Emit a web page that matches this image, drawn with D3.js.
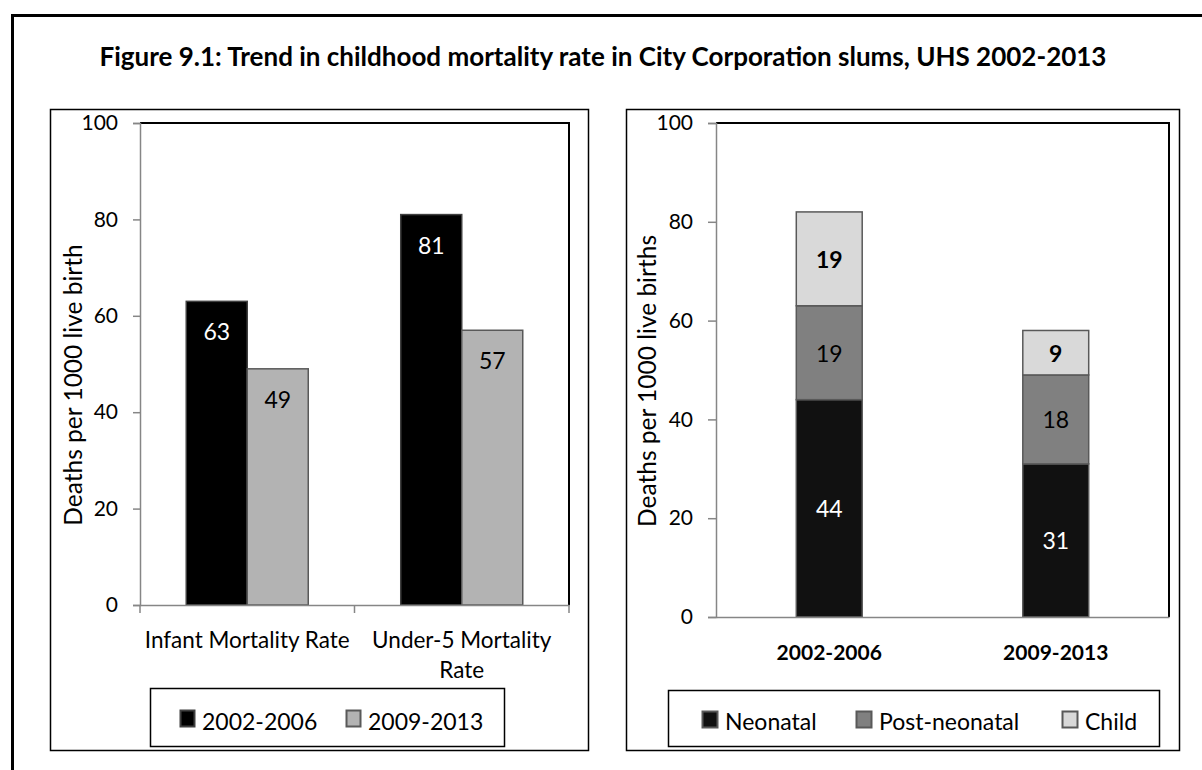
<!DOCTYPE html>
<html><head><meta charset="utf-8">
<script src="https://cdn.jsdelivr.net/npm/d3@7"></script>
<style>
html,body{margin:0;padding:0;background:#fff;}
svg text{font-family:Lato,"Open Sans",sans-serif;}
</style></head>
<body>
<svg id="c" width="1202" height="770"></svg>
<script>
// ---- data ----
const titleText = "Figure 9.1: Trend in childhood mortality rate in City Corporation slums, UHS 2002-2013";
const leftCategories = ["Infant Mortality Rate", "Under-5 Mortality Rate"];
const leftSeries = ["2002-2006", "2009-2013"];
const left2002_2006 = [63, 81];
const left2009_2013 = [49, 57];
const leftYTicks = [0, 20, 40, 60, 80, 100];
const leftYTitle = "Deaths per 1000 live birth";

const rightPeriods = ["2002-2006", "2009-2013"];
const rightComponents = ["Neonatal", "Post-neonatal", "Child"];
const neonatal = [44, 31];
const postNeonatal = [19, 18];
const child = [19, 9];
const rightYTicks = [0, 20, 40, 60, 80, 100];
const rightYTitle = "Deaths per 1000 live births";

// ---- styles ----
const svg = d3.select("#c");
const AXIS = "#868686";
const leftFill = {"2002-2006": "#000000", "2009-2013": "#b3b3b3"};
const leftStroke = {"2002-2006": "#404040", "2009-2013": "#595959"};
const leftLabel = {"2002-2006": "#ffffff", "2009-2013": "#000000"};
const rightFill = {"Neonatal": "#111111", "Post-neonatal": "#808080", "Child": "#d9d9d9"};
const rightLabel = {"Neonatal": "#ffffff", "Post-neonatal": "#000000", "Child": "#000000"};
const rightWeight = {"Neonatal": "normal", "Post-neonatal": "normal", "Child": "bold"};

// outer frame
svg.append("rect").attr("x", 12.5).attr("y", 15.5).attr("width", 1300).attr("height", 900)
  .attr("fill", "none").attr("stroke", "#000").attr("stroke-width", 3);

svg.append("text").attr("x", 603).attr("y", 66).attr("text-anchor", "middle")
  .style("font-weight", "bold").style("font-size", "26px").text(titleText);

// panels
svg.append("rect").attr("x", 50.5).attr("y", 109.5).attr("width", 538).attr("height", 641)
  .attr("fill", "none").attr("stroke", "#000").attr("stroke-width", 1.5);
svg.append("rect").attr("x", 626.5).attr("y", 109.5).attr("width", 553).attr("height", 641)
  .attr("fill", "none").attr("stroke", "#000").attr("stroke-width", 1.5);

// ================= LEFT CHART =================
{
  const x0 = d3.scaleBand().domain(leftCategories).range([140, 569]).padding(0);
  const x1 = d3.scaleBand().domain(leftSeries).range([0, x0.bandwidth()]).paddingInner(0).paddingOuter(0.758);
  const y = d3.scaleLinear().domain([0, 100]).range([605, 123]);
  const g = svg.append("g");

  g.append("path").attr("d", `M140,${y(100)}H569V605`).attr("fill", "none").attr("stroke", "#000").attr("stroke-width", 2);

  const rows = leftCategories.map((c, i) => ({cat: c, vals: [
    {s: leftSeries[0], v: left2002_2006[i]}, {s: leftSeries[1], v: left2009_2013[i]}]}));
  const grp = g.selectAll("g.cat").data(rows).join("g").attr("transform", d => `translate(${x0(d.cat)},0)`);
  grp.selectAll("rect").data(d => d.vals).join("rect")
    .attr("x", d => x1(d.s)).attr("width", x1.bandwidth())
    .attr("y", d => y(d.v)).attr("height", d => y(0) - y(d.v))
    .attr("fill", d => leftFill[d.s]).attr("stroke", d => leftStroke[d.s]).attr("stroke-width", 1.5);
  grp.selectAll("text").data(d => d.vals).join("text")
    .attr("x", d => x1(d.s) + x1.bandwidth() / 2).attr("y", d => y(d.v) + 30)
    .attr("text-anchor", "middle").attr("dominant-baseline", "central")
    .style("font-size", "23px").attr("fill", d => leftLabel[d.s]).text(d => d.v);

  const ya = d3.axisLeft(y).tickValues(leftYTicks).tickSize(7).tickPadding(15);
  const yg = g.append("g").attr("transform", "translate(140,0)").call(ya);
  yg.select(".domain").attr("stroke", AXIS).attr("stroke-width", 1.5);
  yg.selectAll(".tick line").attr("stroke", AXIS).attr("stroke-width", 1.5);
  yg.selectAll(".tick text").style("font-size", "21px").style("font-family", "Lato").attr("fill", "#000");

  const xa = d3.axisBottom(x0).tickValues([]).tickSizeOuter(0);
  const xg = g.append("g").attr("transform", "translate(0,605)").call(xa);
  xg.select(".domain").attr("stroke", AXIS).attr("stroke-width", 1.5);
  const bounds = [140, ...leftCategories.map(c => x0(c) + x0.bandwidth())];
  g.selectAll("line.xt").data(bounds).join("line").attr("class", "xt")
    .attr("x1", d => d).attr("x2", d => d).attr("y1", 605).attr("y2", 613)
    .attr("stroke", AXIS).attr("stroke-width", 1.5);
  const catLines = {"Infant Mortality Rate": ["Infant Mortality Rate"], "Under-5 Mortality Rate": ["Under-5 Mortality", "Rate"]};
  leftCategories.forEach(c => {
    const t = g.append("text").attr("x", x0(c) + x0.bandwidth() / 2).attr("y", 648)
      .attr("text-anchor", "middle").style("font-size", "22.5px");
    catLines[c].forEach((ln, k) => t.append("tspan").attr("x", x0(c) + x0.bandwidth() / 2).attr("dy", k ? 30 : 0).text(ln));
  });

  g.append("text").attr("transform", `translate(82,385) rotate(-90)`)
    .attr("text-anchor", "middle").style("font-size", "24.5px").text(leftYTitle);

  g.append("rect").attr("x", 150.5).attr("y", 688.5).attr("width", 354).attr("height", 58)
    .attr("fill", "#fff").attr("stroke", "#000").attr("stroke-width", 1.5);
  const lx = [180, 346];
  leftSeries.forEach((s, i) => {
    g.append("rect").attr("x", lx[i] + 0.5).attr("y", 710.5).attr("width", 14).attr("height", 16)
      .attr("fill", leftFill[s]).attr("stroke", leftStroke[s]).attr("stroke-width", 2);
    g.append("text").attr("x", lx[i] + 22).attr("y", 730).style("font-size", "23px").text(s);
  });
}

// ================= RIGHT CHART =================
{
  const x = d3.scaleBand().domain(rightPeriods).range([716, 1169]).paddingInner(0.709).paddingOuter(0.3545);
  const y = d3.scaleLinear().domain([0, 100]).range([617, 123]);
  const g = svg.append("g");

  g.append("path").attr("d", `M716,${y(100)}H1169V617`).attr("fill", "none").attr("stroke", "#000").attr("stroke-width", 2);

  const table = rightPeriods.map((p, i) => ({period: p, "Neonatal": neonatal[i], "Post-neonatal": postNeonatal[i], "Child": child[i]}));
  const stacked = d3.stack().keys(rightComponents)(table);

  const layers = g.selectAll("g.layer").data(stacked).join("g").attr("class", "layer");
  layers.selectAll("rect").data(d => d.map(e => Object.assign(e, {key: d.key}))).join("rect")
    .attr("x", d => x(d.data.period)).attr("width", x.bandwidth())
    .attr("y", d => y(d[1])).attr("height", d => y(d[0]) - y(d[1]))
    .attr("fill", d => rightFill[d.key]).attr("stroke", "#595959").attr("stroke-width", 1.5);
  layers.selectAll("text").data(d => d).join("text")
    .attr("x", d => x(d.data.period) + x.bandwidth() / 2).attr("y", d => (y(d[0]) + y(d[1])) / 2)
    .attr("text-anchor", "middle").attr("dominant-baseline", "central")
    .style("font-size", "23px").style("font-weight", d => rightWeight[d.key])
    .attr("fill", d => rightLabel[d.key]).text(d => d[1] - d[0]);

  const ya = d3.axisLeft(y).tickValues(rightYTicks).tickSize(8).tickPadding(15);
  const yg = g.append("g").attr("transform", "translate(716,0)").call(ya);
  yg.select(".domain").attr("stroke", AXIS).attr("stroke-width", 1.5);
  yg.selectAll(".tick line").attr("stroke", AXIS).attr("stroke-width", 1.5);
  yg.selectAll(".tick text").style("font-size", "21px").style("font-family", "Lato").attr("fill", "#000");

  const xa = d3.axisBottom(x).tickSize(0).tickSizeOuter(0).tickPadding(28);
  const xg = g.append("g").attr("transform", "translate(0,617)").call(xa);
  xg.select(".domain").attr("stroke", AXIS).attr("stroke-width", 1.5);
  xg.selectAll(".tick text").style("font-size", "21px").style("font-weight", "bold").style("font-family", "Lato").attr("fill", "#000");

  g.append("text").attr("transform", `translate(656,381) rotate(-90)`)
    .attr("text-anchor", "middle").style("font-size", "24.5px").text(rightYTitle);

  g.append("rect").attr("x", 668.5).attr("y", 690.5).attr("width", 491).attr("height", 56)
    .attr("fill", "#fff").attr("stroke", "#000").attr("stroke-width", 1.5);
  const lx = [702, 856, 1062];
  rightComponents.forEach((k, i) => {
    g.append("rect").attr("x", lx[i] + 0.5).attr("y", 711.5).attr("width", 15).attr("height", 16)
      .attr("fill", rightFill[k]).attr("stroke", "#595959").attr("stroke-width", 2);
    g.append("text").attr("x", lx[i] + 23).attr("y", 730).style("font-size", "23px").text(k);
  });
}
</script>
</body></html>
